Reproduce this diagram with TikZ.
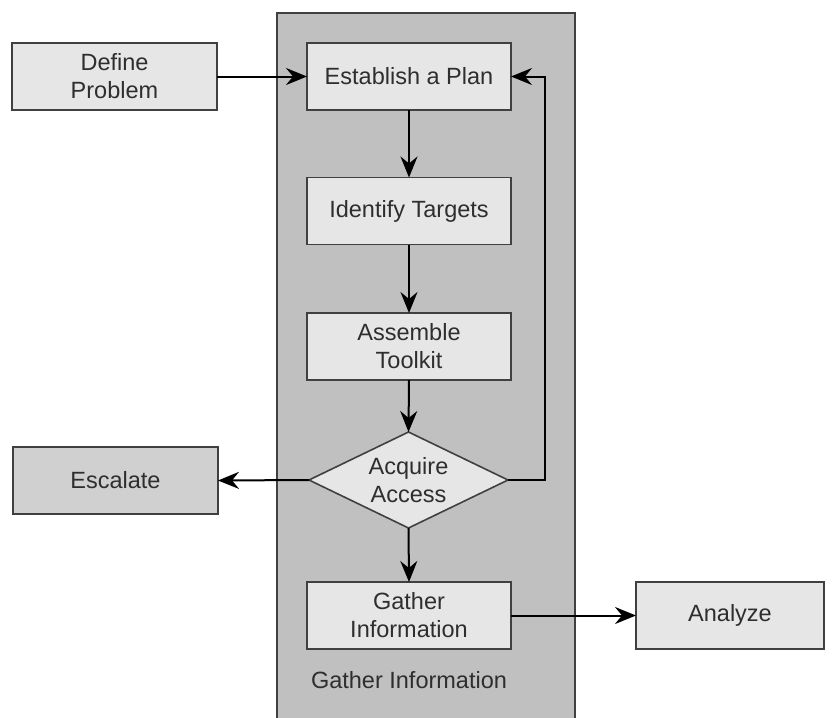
\documentclass[tikz,border=0pt]{standalone}
\usepackage{fontspec}
\setmainfont{Liberation Sans}
\usetikzlibrary{shapes.geometric,arrows.meta}
\definecolor{panelgray}{HTML}{C0C0C0}
\definecolor{boxgray}{HTML}{E6E6E6}
\definecolor{darkboxgray}{HTML}{D0D0D0}
\definecolor{edgegray}{HTML}{404040}
\definecolor{inkgray}{HTML}{2E2E2E}
\tikzset{
  stepbox/.style={rectangle, draw=edgegray, line width=1.6pt, fill=boxgray,
    text=inkgray, font=\fontsize{23.5}{28}\selectfont, align=center,
    inner sep=0pt, outer sep=0pt, minimum width=204pt, minimum height=67pt},
  darkbox/.style={stepbox, fill=darkboxgray},
  decision/.style={diamond, draw=edgegray, line width=1.6pt, fill=boxgray,
    text=inkgray, font=\fontsize{23.5}{28}\selectfont, align=center,
    inner sep=0pt, outer sep=0pt, aspect=2.07,
    minimum width=199pt, minimum height=96pt},
  flow/.style={draw=black, line width=2pt,
    -{Stealth[length=21pt,width=17pt,inset=7pt]}},
  caption/.style={text=inkgray, font=\fontsize{23.5}{28}\selectfont}
}
\begin{document}
\begin{tikzpicture}[x=1pt,y=-1pt]
  \useasboundingbox (0,0) rectangle (832,717);
  % shaded phase panel, running off the bottom edge
  \fill[panelgray] (277,13) rectangle (575,725);
  \draw[edgegray, line width=1.6pt] (277,725) -- (277,13) -- (575,13) -- (575,725);

  % steps
  \node[stepbox, minimum width=205pt] (define) at (114.5,76.5) {Define\\Problem};
  \node[stepbox] (plan) at (409,76.5) {Establish a Plan};
  \node[stepbox] (targets) at (409,211) {Identify Targets};
  \node[stepbox] (toolkit) at (409,346.5) {Assemble\\Toolkit};
  \node[decision] (access) at (408.5,480) {Acquire\\Access};
  \node[darkbox, minimum width=205pt] (escalate) at (115.5,480.5) {Escalate};
  \node[stepbox] (gather) at (409,615.5) {Gather\\Information};
  \node[stepbox, minimum width=188pt] (analyze) at (730,615.5) {Analyze};
  \node[caption] (phase) at (409,680) {Gather Information};

  % connectors
  \coordinate (loopbot) at (545,480);
  \coordinate (looptop) at (545,76.5);
  \draw[flow] (define) -- (plan);
  \draw[flow] (plan.south -| targets.north) -- (targets.north);
  \draw[flow] (targets) -- (toolkit);
  \draw[flow] (toolkit.south) -- (access.north);
  \draw[flow] (access.west) -- (escalate.east);
  \draw[flow] (access.east) -- (loopbot) -- (looptop) -- (plan.east);
  \draw[flow] (access.south) -- (gather.north);
  \draw[flow] (gather) -- (analyze);
\end{tikzpicture}
\end{document}
